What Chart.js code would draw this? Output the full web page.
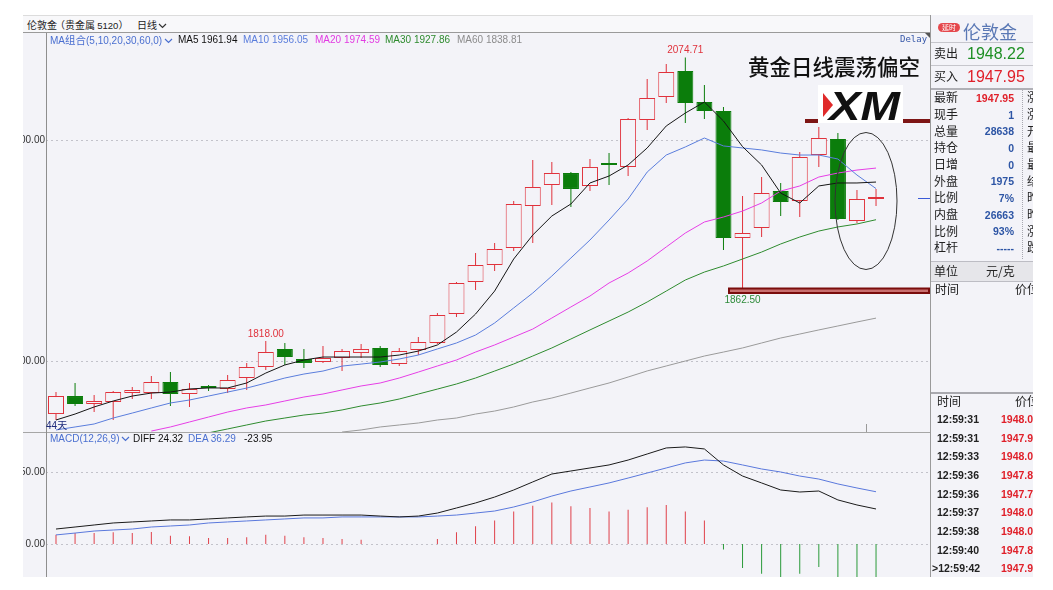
<!DOCTYPE html>
<html lang="zh-CN"><head><meta charset="utf-8"><title>伦敦金 日线</title>
<script src="https://cdn.jsdelivr.net/npm/chart.js@4.4.1/dist/chart.umd.min.js"></script>
<style>
html,body{margin:0;padding:0;background:#fff}
body{width:1053px;height:590px;position:relative;overflow:hidden;font-family:"Liberation Sans",Arial,sans-serif;color:#222}
.a{position:absolute;white-space:nowrap;line-height:1}
.c{font-family:"Noto Sans CJK SC","Liberation Sans",sans-serif}
.ln{position:absolute}
canvas{position:absolute;display:block}
</style></head><body>
<div class="ln" style="left:23px;top:15px;width:907px;height:18px;background:#f8f8fa;border-top:1px solid #dcdcdc;border-bottom:1px solid #9a9a9a;box-sizing:border-box"></div>
<div class="ln" style="left:23px;top:33px;width:907px;height:544px;background:#f3f3f8"></div>
<canvas id="pc" width="907" height="399" style="left:23px;top:33px"></canvas>
<canvas id="mc" width="907" height="144" style="left:23px;top:433px"></canvas>
<div class="ln" style="left:23px;top:432px;width:907px;height:1px;background:#a6a6a6"></div>
<div class="ln" style="left:46px;top:33px;width:1px;height:544px;background:#8e8e8e"></div>
<div class="ln" style="left:866px;top:424px;width:1px;height:8px;background:#999"></div>

<!-- header -->
<div class="a c" style="left:27px;top:19.5px;font-size:10px;color:#222">伦敦金</div>
<div class="a c" style="left:55px;top:19.5px;font-size:10px;color:#222">（贵金属 <span style="font-family:'Liberation Sans';font-size:9.5px">5120</span>）</div>
<div class="a c" style="left:137px;top:19.5px;font-size:10px;color:#222">日线<svg width="9" height="6" style="margin-left:1px"><polyline points="1,1 4.5,4.5 8,1" fill="none" stroke="#333" stroke-width="1.2"/></svg></div>

<div class="a" style="left:50px;top:35px;font-size:10px;color:#4a6fd0">MA<span class="c" style="font-size:10.5px">组合</span>(5,10,20,30,60,0)<svg width="9" height="6" style="margin-left:2px"><polyline points="1,1 4.5,4.5 8,1" fill="none" stroke="#4a6fd0" stroke-width="1.2"/></svg></div>
<div class="a" style="left:178px;top:35px;font-size:10px;color:#111">MA5 1961.94</div>
<div class="a" style="left:243px;top:35px;font-size:10px;color:#5a7ddc">MA10 1956.05</div>
<div class="a" style="left:315px;top:35px;font-size:10px;color:#e23be2">MA20 1974.59</div>
<div class="a" style="left:385px;top:35px;font-size:10px;color:#2e8b2e">MA30 1927.86</div>
<div class="a" style="left:457px;top:35px;font-size:10px;color:#8c8c8c">MA60 1838.81</div>
<div class="a" style="left:900px;top:35px;font-size:9px;color:#3657a8;font-family:'DejaVu Sans Mono',monospace">Delay</div>
<div class="a" style="left:46px;top:420px;font-size:10px;color:#1e2a7a">44<span class="c">天</span></div>

<div class="a" style="left:50px;top:434px;font-size:10px;color:#4a6fd0">MACD(12,26,9)<svg width="9" height="6" style="margin-left:2px"><polyline points="1,1 4.5,4.5 8,1" fill="none" stroke="#4a6fd0" stroke-width="1.2"/></svg></div>
<div class="a" style="left:133px;top:434px;font-size:10px;color:#111">DIFF 24.32</div>
<div class="a" style="left:188px;top:434px;font-size:10px;color:#4a6fd0">DEA 36.29</div>
<div class="a" style="left:244px;top:434px;font-size:10px;color:#111">-23.95</div>

<!-- right panel -->
<div class="ln" style="left:930px;top:15px;width:103px;height:562px;background:#f3f3f8;border-left:1px solid #9a9a9a;box-sizing:border-box"></div>
<div id="rp" class="ln" style="left:931px;top:15px;width:102px;height:562px;overflow:hidden"></div>

<!-- annotations -->
<div class="a c" style="left:748px;top:55px;font-size:21.5px;color:#111;font-weight:500">黄金日线震荡偏空</div>
<svg class="ln" style="left:0;top:0" width="1053" height="590">
 <rect x="805" y="119" width="125" height="4" fill="#7d1515"/>
 <rect x="818" y="85" width="85" height="38" fill="#ffffff"/>
 <polygon points="823,93 833,105 823,117" fill="#e02a2a"/>
 <text x="829" y="120" font-family="Liberation Sans" font-weight="bold" font-style="italic" font-size="41" fill="#111" textLength="71" lengthAdjust="spacingAndGlyphs">XM</text>
 <rect x="729" y="288.5" width="200" height="4.5" fill="#c96f6f" stroke="#7a0c0c" stroke-width="2"/>
 <ellipse cx="866" cy="201" rx="31" ry="68.5" fill="none" stroke="#333" stroke-width="1"/>
 <polygon points="925,33 930,33 930,38" fill="#555"/>
</svg>

<script>
// ---------------- data ----------------
const days = [0,1,2,3,4,5,6,7,8,9,10,11,12,13,14,15,16,17,18,19,20,21,22,23,24,25,26,27,28,29,30,31,32,33,34,35,36,37,38,39,40,41,42,43];
const openP  = [1752.0,1768.3,1761.0,1762.9,1771.0,1771.0,1781.0,1770.1,1776.5,1774.7,1784.6,1794.6,1810.9,1801.8,1799.1,1802.7,1807.2,1811.8,1797.3,1810.0,1816.3,1842.5,1871.5,1886.9,1902.3,1940.3,1959.3,1970.1,1958.4,1979.2,1975.6,2018.1,2038.9,2062.4,2034.4,2026.2,1911.3,1920.4,1953.8,1944.8,1986.4,2000.9,1926.7,1946.6];
const highP  = [1772.0,1780.0,1769.2,1772.9,1776.5,1786.4,1790.0,1780.0,1778.3,1787.3,1798.2,1818.0,1816.3,1810.9,1813.6,1810.9,1815.4,1813.6,1811.8,1821.7,1843.4,1871.5,1897.7,1906.8,1944.8,1981.9,1980.1,1971.0,1982.8,1988.2,2019.9,2055.2,2068.8,2074.71,2049.8,2029.9,1949.3,1966.5,1961.1,1989.1,2011.8,2006.3,1954.8,1955.7];
const lowP   = [1746.6,1759.3,1753.8,1746.6,1765.6,1765.6,1759.3,1758.4,1772.9,1771.0,1773.8,1791.9,1796.4,1793.7,1798.2,1791.0,1802.7,1794.6,1795.5,1805.4,1815.4,1839.8,1864.3,1881.4,1899.5,1906.8,1941.2,1939.4,1953.8,1959.3,1967.4,2009.0,2033.5,2015.4,2019.0,1900.5,1862.5,1912.2,1931.2,1930.3,1975.6,1927.6,1924.9,1940.3];
const closeP = [1768.3,1761.0,1763.8,1771.9,1773.8,1781.0,1770.1,1774.7,1775.6,1782.8,1794.6,1808.1,1803.6,1798.2,1802.7,1809.0,1810.9,1796.4,1809.0,1817.2,1841.6,1870.6,1886.9,1901.4,1942.1,1957.5,1970.1,1955.7,1975.6,1977.4,2019.0,2038.0,2061.5,2033.5,2026.2,1911.3,1915.8,1952.0,1943.9,1984.6,2001.8,1928.5,1946.6,1947.95];

const ma5  = [1746.6,1752.0,1758.4,1763.8,1768.3,1771.0,1771.9,1774.7,1775.6,1775.6,1780.1,1789.1,1796.4,1800.9,1803.6,1803.6,1803.6,1803.6,1805.4,1809.0,1814.5,1826.2,1842.5,1863.3,1892.3,1914.0,1931.2,1942.1,1961.1,1967.4,1977.4,1992.8,2012.7,2024.4,2034.4,2017.2,1994.0,1977.4,1952.0,1943.0,1958.4,1961.1,1961.1,1961.94];
const ma10 = [1737.6,1740.3,1743.0,1748.4,1752.9,1757.5,1762.0,1764.7,1768.3,1771.9,1775.5,1780.0,1784.6,1788.2,1790.9,1795.4,1797.2,1799.1,1801.8,1805.4,1810.9,1816.3,1823.5,1834.4,1848.0,1861.5,1876.9,1893.2,1909.5,1927.6,1946.6,1971.0,1986.4,1993.7,2001.8,1994.6,1992.8,1991.0,1988.2,1986.4,1986.4,1982.8,1968.3,1956.05];
const ma20 = [null,null,null,null,null,1736.6,1740.3,1744.8,1749.3,1753.8,1757.5,1760.2,1763.8,1767.4,1770.1,1773.8,1777.4,1780.1,1784.6,1790.0,1795.5,1800.9,1808.1,1814.5,1821.7,1828.9,1838.9,1848.9,1858.8,1870.6,1879.6,1890.5,1903.2,1915.8,1925.8,1930.3,1935.7,1943.0,1953.8,1958.4,1966.5,1970.1,1972.8,1974.59];
const ma30 = [null,null,null,null,null,null,null,null,1735.0,1738.5,1742.1,1745.7,1748.4,1751.1,1752.9,1755.7,1759.3,1762.0,1765.6,1770.1,1774.6,1779.2,1784.6,1790.9,1797.3,1804.5,1811.8,1819.9,1828.1,1836.2,1844.3,1853.4,1863.3,1873.3,1880.5,1886.0,1892.3,1898.6,1905.9,1912.2,1917.6,1921.3,1924.0,1927.86];
const ma60 = [null,null,null,null,null,null,null,null,null,null,null,null,null,null,null,1735.7,1737.6,1740.3,1742.1,1743.9,1746.6,1748.4,1752.0,1754.7,1758.4,1762.9,1766.5,1771.0,1775.6,1780.1,1785.5,1791.0,1795.5,1800.0,1804.5,1808.1,1811.8,1816.3,1820.8,1824.4,1828.1,1831.7,1835.3,1838.81];

const diff = [10.4,11.8,13.2,14.6,15.3,16.0,16.7,16.7,17.4,18.1,18.8,19.4,19.4,20.1,20.1,20.1,20.1,19.4,18.8,19.4,21.5,25.0,28.5,32.6,37.5,43.1,48.6,50.7,52.8,54.9,58.3,62.5,66.7,67.4,66.0,54.9,47.2,42.4,37.5,36.1,36.8,30.6,27.1,24.32];
const dea  = [6.3,7.6,9.0,9.7,10.4,11.8,12.5,13.2,14.6,15.3,16.0,16.7,17.4,18.1,18.1,18.8,18.8,18.8,18.8,18.8,19.4,20.1,21.5,22.9,25.7,29.2,33.3,36.8,39.6,42.4,45.8,49.3,52.8,56.3,58.3,57.6,54.9,52.1,50.0,47.2,45.1,41.7,38.9,36.29];
const hist = [6.5,7.6,7.6,8.1,7.6,8.3,5.8,5.3,4.2,4.2,4.6,6.5,5.8,4.6,4.2,3.5,3.0,null,null,null,3.5,8.1,12.3,16.4,22.5,26.6,28.9,26.2,25.0,22.5,23.8,25.5,27.1,22.5,16.4,-3.9,-16.7,-20.6,-25.0,-20.6,-16.0,-24.0,-24.5,-23.95];

const priceTicks = [1800, 2000];
const macdTicks = [0, 50];
const markIdx = [11, 33, 36];
const markKind = ['high', 'high', 'low'];

const quoteLabels = ['最新','现手','总量','持仓','日增','外盘','比例','内盘','比例','杠杆'];
const quoteValues = ['1947.95','1','28638','0','0','1975','7%','26663','93%','-----'];
const quoteThird  = ['涨跌','涨幅','开盘','最高','最低','结算','昨结','昨收','涨停','跌停'];
const tradeTimes  = ['12:59:31','12:59:31','12:59:33','12:59:36','12:59:36','12:59:37','12:59:38','12:59:40','12:59:42'];
const tradePrices = ['1948.02','1947.94','1948.02','1947.85','1947.76','1948.05','1948.05','1947.85','1947.95'];

// ---------------- style ----------------
const BG = '#f3f3f8', UP = '#e0323c', DN = '#0b7d0b';
const FONT = '"Liberation Sans", Arial, sans-serif';

const dashGrid = {
  id: 'dashGrid',
  beforeDatasetsDraw(chart, args, opts) {
    const {ctx, chartArea: a, scales: {y}} = chart;
    ctx.save();
    ctx.strokeStyle = '#c2c2ca'; ctx.lineWidth = 1; ctx.setLineDash([2, 3]);
    (opts.values || []).forEach(v => {
      const py = Math.round(y.getPixelForValue(v)) + 0.5;
      ctx.beginPath(); ctx.moveTo(a.left, py); ctx.lineTo(a.right, py); ctx.stroke();
    });
    ctx.restore();
  }
};

const marks = {
  id: 'marks',
  afterDatasetsDraw(chart) {
    const {ctx, chartArea: a, scales: {x, y}} = chart;
    ctx.save();
    ctx.font = '10px ' + FONT; ctx.textAlign = 'center';
    markIdx.forEach((i, k) => {
      const px = x.getPixelForValue(days[i]);
      if (markKind[k] === 'high') {
        ctx.fillStyle = '#e0323c'; ctx.textBaseline = 'bottom';
        ctx.fillText(highP[i].toFixed(2), px, y.getPixelForValue(highP[i]) - 2);
      } else {
        ctx.fillStyle = '#2e8b3a'; ctx.textBaseline = 'top';
        ctx.fillText(lowP[i].toFixed(2), px, y.getPixelForValue(lowP[i]) + 3);
      }
    });
    const ly = Math.round(y.getPixelForValue(closeP[closeP.length - 1])) + 0.5;
    ctx.strokeStyle = '#3a5ad8'; ctx.lineWidth = 1;
    ctx.beginPath(); ctx.moveTo(a.right - 12, ly); ctx.lineTo(a.right, ly); ctx.stroke();
    ctx.restore();
  }
};

const xMin = -0.524, xMax = 45.83;
function yAxis(min, max, ticks) {
  return {
    type: 'linear', position: 'left', min, max, bounds: 'data', beginAtZero: false,
    afterBuildTicks: s => { s.ticks = ticks.map(v => ({value: v})); },
    afterFit: s => { s.width = 23; s.paddingTop = 0; s.paddingBottom = 0; },
    grid: {display: false, drawTicks: false}, border: {display: false},
    ticks: {padding: 1, color: '#333', font: {family: FONT, size: 10}, callback: v => Number(v).toFixed(2)}
  };
}
const xAxis = {type: 'linear', min: xMin, max: xMax, display: false, offset: false, bounds: 'data', grid: {display: false}};
const pts = arr => days.map((d, i) => ({x: d, y: arr[i]}));
const lineDs = (arr, color) => ({type: 'line', data: pts(arr), borderColor: color, borderWidth: 1, pointRadius: 0, tension: 0, order: 0, spanGaps: false});

const up = days.map(i => closeP[i] >= openP[i]);

new Chart(document.getElementById('pc'), {
  type: 'bar',
  data: {
    datasets: [
      lineDs(ma5, '#151515'),
      lineDs(ma10, '#5a7ddc'),
      lineDs(ma20, '#e63ee6'),
      lineDs(ma30, '#2e8b2e'),
      lineDs(ma60, '#9a9a9a'),
      {type: 'bar', data: days.map((d, i) => ({x: d, y: [openP[i], closeP[i]]})), grouped: false, order: 1,
        barThickness: 16, minBarLength: 2, borderWidth: 1, borderSkipped: false, inflateAmount: 0,
        backgroundColor: up.map(u => u ? BG : DN), borderColor: up.map(u => u ? UP : DN)},
      {type: 'bar', data: days.map((d, i) => ({x: d, y: [lowP[i], highP[i]]})), grouped: false, order: 2,
        barThickness: 1, borderWidth: 0, inflateAmount: 0,
        backgroundColor: up.map(u => u ? UP : DN)}
    ]
  },
  options: {
    responsive: false, animation: false, devicePixelRatio: 1, events: [],
    layout: {padding: 0, autoPadding: false},
    plugins: {legend: {display: false}, tooltip: {enabled: false}, dashGrid: {values: priceTicks}},
    scales: {x: xAxis, y: yAxis(1735.75, 2096.83, priceTicks)}
  },
  plugins: [dashGrid, marks]
});

new Chart(document.getElementById('mc'), {
  type: 'bar',
  data: {
    datasets: [
      lineDs(diff, '#1a1a1a'),
      lineDs(dea, '#5a78dc'),
      {type: 'bar', data: pts(hist), order: 1, barThickness: 1, borderWidth: 0, inflateAmount: 0,
        backgroundColor: hist.map(v => (v || 0) >= 0 ? '#e0404a' : '#2a9a3a')}
    ]
  },
  options: {
    responsive: false, animation: false, devicePixelRatio: 1, events: [],
    layout: {padding: 0, autoPadding: false},
    plugins: {legend: {display: false}, tooltip: {enabled: false}, dashGrid: {values: macdTicks}},
    scales: {x: xAxis, y: yAxis(-22.92, 77.08, macdTicks)}
  },
  plugins: [dashGrid]
});

// ---------------- right quote panel ----------------
const rp = document.getElementById('rp');
const OX = 931, OY = 15;
function el(html, css) { const d = document.createElement('div'); d.innerHTML = html; d.style.cssText = 'position:absolute;white-space:nowrap;line-height:1;' + css; rp.appendChild(d); return d; }
function txt(x, yc, s, size, color, extra, cjk) {
  const k = cjk ? 0.55 : 0.49;
  return el(s, `left:${x - OX}px;top:${yc - OY - k * size}px;font-size:${size}px;color:${color};` + (cjk ? 'font-family:"Noto Sans CJK SC",sans-serif;' : '') + (extra || ''));
}
function txtR(xr, yc, s, size, color, extra) {
  return el(s, `right:${OX + 102 - xr}px;top:${yc - OY - 0.49 * size}px;font-size:${size}px;color:${color};` + (extra || ''));
}
function hline(y, h, color) { el('', `left:0;top:${y - OY}px;width:102px;height:${h}px;background:${color}`); }

el('延时', `left:${938 - OX}px;top:${23 - OY}px;width:22px;height:9px;background:#e5484d;border-radius:5px;color:#fff;font-size:7px;line-height:9px;text-align:center;font-family:"Noto Sans CJK SC",sans-serif`);
txt(963, 31.5, '伦敦金', 18, '#5a78b5', '', true);
hline(42, 1, '#c6c6cc');
txt(934, 54, '卖出', 12, '#222', '', true);
txt(967, 54, '1948.22', 16, '#1f8f25');
hline(65, 1, '#c6c6cc');
txt(934, 77, '买入', 12, '#222', '', true);
txt(967, 77, '1947.95', 16, '#e0202a');
hline(88, 2, '#b0b0b6');
el('', `left:${1022 - OX}px;top:${90 - OY}px;width:0;height:169px;border-left:1px dotted #a8a8b0`);
quoteLabels.forEach((lab, k) => {
  const yc = 98 + 16.67 * k;
  txt(934, yc, lab, 12, '#222', '', true);
  txtR(1014, yc, quoteValues[k], 10.5, k === 0 ? '#e0202a' : '#2d55a5', 'font-weight:bold;');
  txt(1027, yc, quoteThird[k], 12, '#222', '', true);
});
el('', `left:0;top:${261 - OY}px;width:102px;height:21px;background:#e6e6ea;border-top:1px solid #bdbdc4;border-bottom:1px solid #bdbdc4;box-sizing:border-box`);
txt(934, 271.5, '单位', 12, '#222', '', true);
txt(986, 271.5, '元/克', 12, '#222', '', true);
txt(935, 290, '时间', 12, '#222', '', true);
txt(1015, 290, '价位', 12, '#222', '', true);
hline(392, 2, '#a8a8ae');
txt(937, 402, '时间', 12, '#222', '', true);
txt(1015, 402, '价位', 12, '#222', '', true);
tradeTimes.forEach((t, k) => {
  const yc = 419.3 + 18.65 * k;
  const last = k === tradeTimes.length - 1;
  txt(last ? 932 : 937, yc, (last ? '&gt;' : '') + t, 10.5, '#222', 'font-weight:bold;');
  txt(1001, yc, tradePrices[k], 10.5, '#e0202a', 'font-weight:bold;');
});
</script>
</body></html>
